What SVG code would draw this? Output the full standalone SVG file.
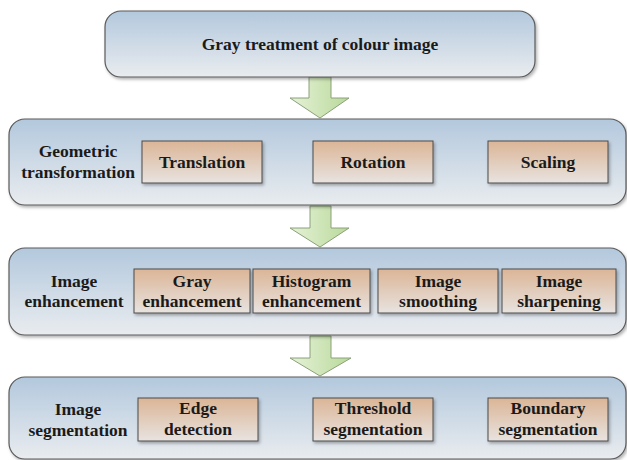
<svg xmlns="http://www.w3.org/2000/svg" width="627" height="460" viewBox="0 0 627 460">
<defs>
<linearGradient id="gOuter" x1="0" y1="0" x2="0" y2="1">
<stop offset="0" stop-color="#b3c8dd"/>
<stop offset="1" stop-color="#e9ecef"/>
</linearGradient>
<linearGradient id="gInner" x1="0" y1="0" x2="0" y2="1">
<stop offset="0" stop-color="#dbb596"/>
<stop offset="1" stop-color="#e8e3e0"/>
</linearGradient>
<linearGradient id="gArrow" x1="0" y1="0" x2="1" y2="0">
<stop offset="0" stop-color="#e6f2d8"/>
<stop offset="1" stop-color="#b9d99a"/>
</linearGradient>
<filter id="sh" x="-5%" y="-10%" width="110%" height="130%">
<feDropShadow dx="1.5" dy="2" stdDeviation="1.5" flood-color="#000" flood-opacity="0.3"/>
</filter>
</defs>
<style>
.outer{fill:url(#gOuter);stroke:#5a5a5a;stroke-width:1.2;filter:url(#sh)}
.inner{fill:url(#gInner);stroke:#4a4a4a;stroke-width:1;filter:url(#sh)}
.arrow{fill:url(#gArrow);stroke:#8aa07a;stroke-width:1}
.t{font-family:"Liberation Serif","Times New Roman",serif;font-weight:bold;font-size:17.5px;fill:#1a1a1a;text-anchor:middle}
</style>
<rect width="627" height="460" fill="#ffffff"/>
<g id="connectors">
<path class="arrow" d="M309,77 H331 V98 H349 L320,118 L290,98 H309 Z"/>
<path class="arrow" d="M310,206 H331 V228 H349 L320,247 L290,228 H310 Z"/>
<path class="arrow" d="M310,336 H331 V358 H351 L320,376 L290,358 H310 Z"/>
</g>
<g id="n0">
<rect class="outer" x="105" y="11" width="430" height="66" rx="16"/>
<text class="t" x="320" y="50">Gray treatment of colour image</text>
</g>
<g id="row1">
<rect class="outer" x="9" y="119" width="617" height="86" rx="16"/>
<text class="t" x="78" y="157">Geometric</text>
<text class="t" x="78" y="178">transformation</text>
</g>
<g id="n_translation"><rect class="inner" x="142" y="141" width="120" height="42"/><text class="t" x="202" y="168">Translation</text></g>
<g id="n_rotation"><rect class="inner" x="313" y="141" width="120" height="42"/><text class="t" x="373" y="168">Rotation</text></g>
<g id="n_scaling"><rect class="inner" x="488" y="141" width="120" height="42"/><text class="t" x="548" y="168">Scaling</text></g>
<g id="row2">
<rect class="outer" x="9" y="248" width="617" height="87" rx="16"/>
<text class="t" x="74" y="287">Image</text>
<text class="t" x="74" y="307">enhancement</text>
</g>
<g id="n_gray"><rect class="inner" x="134" y="269" width="116" height="44"/><text class="t" x="192" y="287">Gray</text><text class="t" x="192" y="307">enhancement</text></g>
<g id="n_hist"><rect class="inner" x="253" y="269" width="117" height="44"/><text class="t" x="311.5" y="287">Histogram</text><text class="t" x="311.5" y="307">enhancement</text></g>
<g id="n_smooth"><rect class="inner" x="378" y="269" width="120" height="44"/><text class="t" x="438" y="287">Image</text><text class="t" x="438" y="307">smoothing</text></g>
<g id="n_sharp"><rect class="inner" x="502" y="269" width="114" height="44"/><text class="t" x="559" y="287">Image</text><text class="t" x="559" y="307">sharpening</text></g>
<g id="row3">
<rect class="outer" x="9" y="377" width="617" height="82" rx="16"/>
<text class="t" x="78" y="415">Image</text>
<text class="t" x="78" y="436">segmentation</text>
</g>
<g id="n_edge"><rect class="inner" x="138" y="398" width="120" height="43"/><text class="t" x="198" y="414">Edge</text><text class="t" x="198" y="435">detection</text></g>
<g id="n_thresh"><rect class="inner" x="313" y="398" width="120" height="43"/><text class="t" x="373" y="414">Threshold</text><text class="t" x="373" y="435">segmentation</text></g>
<g id="n_boundary"><rect class="inner" x="488" y="398" width="120" height="43"/><text class="t" x="548" y="414">Boundary</text><text class="t" x="548" y="435">segmentation</text></g>
</svg>
